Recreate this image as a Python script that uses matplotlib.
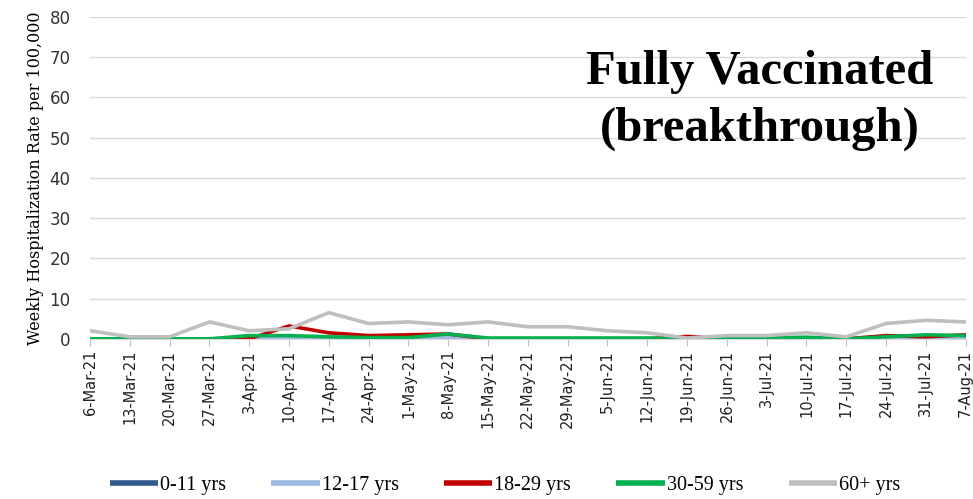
import matplotlib
matplotlib.use("Agg")
import matplotlib.pyplot as plt

dates = ["6-Mar-21", "13-Mar-21", "20-Mar-21", "27-Mar-21", "3-Apr-21", "10-Apr-21",
         "17-Apr-21", "24-Apr-21", "1-May-21", "8-May-21", "15-May-21", "22-May-21",
         "29-May-21", "5-Jun-21", "12-Jun-21", "19-Jun-21", "26-Jun-21", "3-Jul-21",
         "10-Jul-21", "17-Jul-21", "24-Jul-21", "31-Jul-21", "7-Aug-21"]

age_0_11 = [0, 0, 0, 0, 0, 0, 0, 0, 0, 0, 0, 0, 0, 0, 0, 0, 0, 0, 0, 0, 0, 0, 0]
age_12_17 = [0, 0, 0, 0, 0, 0.2, 0, 0, 0, 0.3, 0, 0, 0, 0, 0, 0, 0, 0, 0, 0, 0.2, 0.3, 0.2]
age_18_29 = [0, 0, 0, 0, 0, 3.2, 1.5, 0.8, 1.0, 1.2, 0, 0, 0, 0, 0, 0.6, 0, 0, 0, 0, 0.8, 0.5, 1.0]
age_30_59 = [0, 0, 0, 0, 0.8, 0.8, 0.5, 0.3, 0.3, 1.2, 0.2, 0.2, 0.2, 0.2, 0.2, 0, 0.2, 0.2, 0.4, 0, 0.5, 1.0, 0.8]
age_60 = [2.0, 0.5, 0.5, 4.2, 2.0, 2.5, 6.5, 3.8, 4.2, 3.5, 4.2, 3.0, 3.0, 2.0, 1.5, 0.2, 0.8, 0.8, 1.5, 0.5, 3.8, 4.6, 4.2]

series = [
    ("0-11 yrs", age_0_11, "#2f5a8c"),
    ("12-17 yrs", age_12_17, "#9dbbe0"),
    ("18-29 yrs", age_18_29, "#c00000"),
    ("30-59 yrs", age_30_59, "#00b050"),
    ("60+ yrs", age_60, "#bfbfbf"),
]

fig = plt.figure(figsize=(9.73, 4.99), dpi=100)
ax = fig.add_axes([0.0925, 0.321, 0.9, 0.645])

x = list(range(len(dates)))
for name, vals, col in series:
    ax.plot(x, vals, color=col, lw=2.6, label=name, solid_joinstyle="round")

ax.set_xlim(0, len(dates) - 1)
ax.set_ylim(0, 80)
ax.set_yticks(range(0, 81, 10))
ax.set_xticks(x)
ax.set_xticklabels(dates, rotation=90, fontsize=10.5, family="DejaVu Sans", color="#222222")
ax.tick_params(axis="y", length=0, labelsize=12, labelcolor="#333333", pad=14)
ax.tick_params(axis="x", length=5, color="#bfbfbf", pad=3)
ax.grid(axis="y", color="#d9d9d9", lw=1)
ax.set_axisbelow(True)
for s in ["top", "right", "left"]:
    ax.spines[s].set_visible(False)
ax.spines["bottom"].set_color("#d9d9d9")

ax.set_ylabel("Weekly Hospitalization Rate per 100,000", family="DejaVu Serif",
              fontsize=11.5, labelpad=4)

fig.text(0.781, 0.798, "Fully Vaccinated\n(breakthrough)", ha="center", va="center",
         family="Liberation Serif", fontweight="bold", fontsize=35, linespacing=1.38)

leg = fig.legend(loc="center", bbox_to_anchor=(0.519, 0.027), ncol=5, frameon=False,
                 prop={"family": "Liberation Serif", "size": 14.5}, handlelength=2.4,
                 handletextpad=0.1, columnspacing=2.25)
for h in leg.get_lines():
    h.set_linewidth(4)
    h.set_solid_capstyle("butt")

fig.savefig("out.png", dpi=100)
